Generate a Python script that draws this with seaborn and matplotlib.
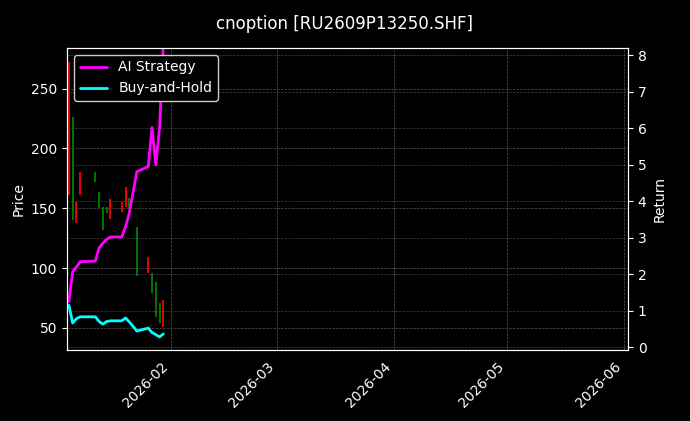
import pandas as pd
import numpy as np
import seaborn as sns
import matplotlib
matplotlib.use("Agg")
import matplotlib.pyplot as plt
import matplotlib.dates as mdates

dates = pd.to_datetime(["2026-01-05", "2026-01-06", "2026-01-07", "2026-01-08", "2026-01-12",
                        "2026-01-13", "2026-01-14", "2026-01-15", "2026-01-16", "2026-01-19",
                        "2026-01-20", "2026-01-21", "2026-01-23", "2026-01-26", "2026-01-27",
                        "2026-01-28", "2026-01-29", "2026-01-30"])
opens = [161, 226, 138, 161, 180, 164, 151, 151, 141, 147, 151, 159, 134, 96, 96, 88, 71, 51]
closes = [272, 140, 155, 180, 172, 150, 132, 146, 158, 155, 168, 149, 93, 109, 79, 59, 54, 73]
ai_strategy = [1.25, 2.06, 2.2, 2.34, 2.36, 2.72, 2.85, 2.95, 3.02, 3.02, 3.3, 3.68, 4.81,
               4.95, 6.02, 5.0, 6.0, 8.3]
buy_hold = [1.15, 0.66, 0.78, 0.83, 0.83, 0.7, 0.63, 0.7, 0.72, 0.72, 0.8, 0.69, 0.44,
            0.52, 0.4, 0.34, 0.28, 0.36]

plt.style.use("dark_background")
sns.set_style("darkgrid", {"axes.facecolor": "black", "figure.facecolor": "black",
                           "axes.edgecolor": "white", "grid.color": "#555555",
                           "text.color": "white", "axes.labelcolor": "white",
                           "xtick.color": "white", "ytick.color": "white"})
plt.rcParams["font.family"] = ["DejaVu Sans"]

fig = plt.figure(figsize=(6.9, 4.21), dpi=100)
ax = fig.add_axes([67 / 690, 1 - 350 / 421, (628 - 67) / 690, (350 - 48) / 421])
ax2 = ax.twinx()

colors = ["red" if c >= o else "green" for o, c in zip(opens, closes)]
ax.vlines(dates, opens, closes, colors=colors, linewidth=1.3)
ax.set_ylim(31.5, 284)
ax.set_ylabel("Price")
ax.grid(True, linestyle="--", linewidth=0.5, color="#555555")

df = pd.DataFrame({"date": dates, "AI Strategy": ai_strategy, "Buy-and-Hold": buy_hold})
sns.lineplot(data=df, x="date", y="AI Strategy", ax=ax2, color="magenta", linewidth=2, label="AI Strategy")
sns.lineplot(data=df, x="date", y="Buy-and-Hold", ax=ax2, color="cyan", linewidth=2, label="Buy-and-Hold")
ax2.set_ylim(-0.08, 8.2)
ax2.set_ylabel("Return")
ax2.grid(True, axis="y", linestyle="--", linewidth=0.5, color="#444444")
ax2.legend(loc="upper left", facecolor="black", edgecolor="#cccccc", framealpha=1)

ax.set_xlim(pd.Timestamp("2026-01-04 12:00"), pd.Timestamp("2026-06-02"))
ax.xaxis.set_major_locator(mdates.MonthLocator(bymonthday=1))
ax.xaxis.set_major_formatter(mdates.DateFormatter("%Y-%m"))
ax.set_xlabel("")
ax2.set_xlabel("")
for lbl in ax.get_xticklabels():
    lbl.set_rotation(45)
    lbl.set_ha("right")
for sp in list(ax.spines.values()) + list(ax2.spines.values()):
    sp.set_color("white")

fig.suptitle("cnoption [RU2609P13250.SHF]", y=0.965, fontsize=12)
fig.savefig("out.png", dpi=100, facecolor="black")
